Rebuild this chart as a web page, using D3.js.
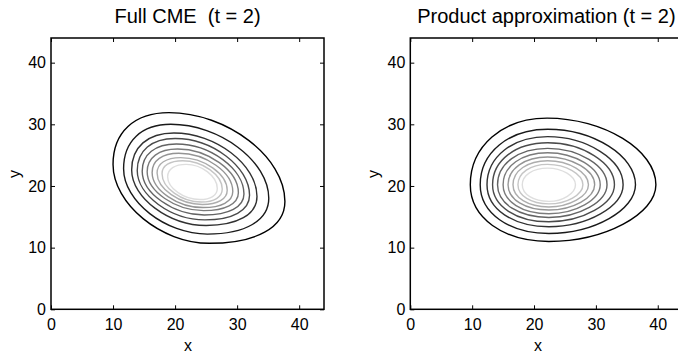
<!DOCTYPE html>
<html>
<head>
<meta charset="utf-8">
<script src="https://cdn.jsdelivr.net/npm/d3@7"></script>
<style>
  body { margin: 0; background: #fff; }
  text { font-family: "Liberation Sans", Arial, sans-serif; fill: #000; }
</style>
</head>
<body>
<div id="chart"></div>
<script>
const xTicks = [0, 10, 20, 30, 40]
const yTicks = [0, 10, 20, 30, 40]
const titles = ['Full CME  (t = 2)', 'Product approximation (t = 2)']

// contour rings, outer to inner: extreme points (leftmost, top, rightmost, bottom) in data units
const cmeLeft = [[10.0, 23.5], [11.7, 22.8], [13.0, 22.6], [13.9, 22.5], [14.7, 22.4], [15.5, 22.3], [16.3, 22.2], [17.1, 22.1], [17.9, 22.0], [18.8, 21.5]]
const cmeTop = [[19.0, 31.9], [19.3, 30.0], [19.8, 28.6], [20.0, 27.7], [20.2, 26.8], [20.4, 26.0], [20.6, 25.3], [20.9, 24.6], [21.2, 24.1], [21.8, 23.5]]
const cmeRight = [[37.7, 17.5], [35.1, 18.0], [33.2, 18.3], [32.0, 18.5], [31.1, 18.7], [30.2, 18.9], [29.3, 19.1], [28.4, 19.3], [27.6, 19.5], [26.8, 19.6]]
const cmeBottom = [[25.5, 10.7], [25.2, 12.2], [25.0, 13.6], [24.8, 14.5], [24.7, 15.3], [24.6, 16.0], [24.5, 16.5], [24.4, 17.0], [24.2, 17.4], [24.0, 17.8]]

const prodLeft = [[9.7, 20.2], [11.3, 20.2], [12.4, 20.2], [13.3, 20.2], [14.1, 20.2], [15.0, 20.2], [15.8, 20.2], [16.6, 20.2], [17.4, 20.2], [18.1, 20.2]]
const prodTop = [[22.1, 31.0], [22.2, 29.2], [22.2, 28.0], [22.2, 27.0], [22.2, 26.1], [22.2, 25.4], [22.2, 24.7], [22.2, 24.1], [22.2, 23.5], [22.2, 22.9]]
const prodRight = [[39.7, 20.2], [36.4, 20.2], [34.4, 20.2], [33.0, 20.2], [31.8, 20.2], [30.7, 20.2], [29.8, 20.2], [28.8, 20.2], [27.9, 20.2], [26.7, 20.2]]
const prodBottom = [[22.4, 11.0], [22.4, 12.3], [22.4, 13.4], [22.4, 14.2], [22.4, 14.9], [22.4, 15.5], [22.4, 16.1], [22.4, 16.6], [22.4, 17.1], [22.4, 17.5]]

// how far each quarter arc bulges (L->T, T->R, R->B, B->L)
const cmeBulge = [0.62, 0.5, 0.62, 0.5]
const prodBulge = [0.58, 0.52, 0.52, 0.58]

const W = 678
const H = 353
const plotTop = 38
const plotBottom = 309.3

const panels = [
  { title: titles[0], x0: 51, x1: 324, L: cmeLeft, T: cmeTop, R: cmeRight, B: cmeBottom, bulge: cmeBulge, xlab: 188 },
  { title: titles[1], x0: 410.3, x1: 682.5, L: prodLeft, T: prodTop, R: prodRight, B: prodBottom, bulge: prodBulge, xlab: 538 }
]

const svg = d3.select('#chart').append('svg')
  .attr('width', W)
  .attr('height', H)

// quarter arc from p (tangent along axis a) to q (tangent along axis b)
const arc = (path, p, q, a, b, k) => {
  const c1 = a === 'v' ? [p[0], p[1] + k * (q[1] - p[1])] : [p[0] + k * (q[0] - p[0]), p[1]]
  const c2 = b === 'v' ? [q[0], q[1] + k * (p[1] - q[1])] : [q[0] + k * (p[0] - q[0]), q[1]]
  path.bezierCurveTo(c1[0], c1[1], c2[0], c2[1], q[0], q[1])
}

panels.forEach(p => {
  const x = d3.scaleLinear().domain([0, 44]).range([p.x0, p.x1])
  const y = d3.scaleLinear().domain([0, 44]).range([plotBottom, plotTop])
  const g = svg.append('g')
  const n = p.L.length
  const gray = d3.scaleLinear().domain([0, n - 1]).range(['#000', '#dedede'])

  d3.range(n).forEach(i => {
    const pt = d => [x(d[0]), y(d[1])]
    const L = pt(p.L[i]), T = pt(p.T[i]), R = pt(p.R[i]), B = pt(p.B[i])
    const k = p.bulge
    const path = d3.path()
    path.moveTo(L[0], L[1])
    arc(path, L, T, 'v', 'h', k[0])
    arc(path, T, R, 'h', 'v', k[1])
    arc(path, R, B, 'v', 'h', k[2])
    arc(path, B, L, 'h', 'v', k[3])
    path.closePath()
    g.append('path')
      .attr('d', path.toString())
      .attr('fill', 'none')
      .attr('stroke', gray(i))
      .attr('stroke-width', 1.4)
  })

  const ax = (call, tx, ty, fmt) => {
    const a = g.append('g').attr('transform', 'translate(' + tx + ',' + ty + ')').call(call)
    a.select('.domain').remove()
    a.selectAll('line').attr('stroke', '#000').attr('stroke-width', 1)
    a.selectAll('text').style('font-size', '16px').style('font-family', '"Liberation Sans", Arial, sans-serif')
    if (!fmt) a.selectAll('text').remove()
    return a
  }
  ax(d3.axisBottom(x).tickValues(xTicks).tickSizeInner(-4).tickSizeOuter(0).tickPadding(9), 0, plotBottom, true)
  ax(d3.axisLeft(y).tickValues(yTicks).tickSizeInner(-4).tickSizeOuter(0).tickPadding(5), p.x0, 0, true)
  ax(d3.axisTop(x).tickValues(xTicks).tickSizeInner(-4).tickSizeOuter(0), 0, plotTop, false)
  ax(d3.axisRight(y).tickValues(yTicks).tickSizeInner(-4).tickSizeOuter(0), p.x1, 0, false)

  g.append('rect')
    .attr('x', p.x0)
    .attr('y', plotTop)
    .attr('width', p.x1 - p.x0)
    .attr('height', plotBottom - plotTop)
    .attr('fill', 'none')
    .attr('stroke', '#000')
    .attr('stroke-width', 1.5)

  g.append('text')
    .attr('x', (p.x0 + p.x1) / 2)
    .attr('y', 22.7)
    .attr('text-anchor', 'middle')
    .style('font-size', '20px')
    .style('white-space', 'pre')
    .text(p.title)

  g.append('text')
    .attr('x', p.xlab)
    .attr('y', 351)
    .attr('text-anchor', 'middle')
    .style('font-size', '16px')
    .text('x')

  g.append('text')
    .attr('transform', 'translate(' + (p.x0 - 37) + ',' + 174 + ') rotate(-90)')
    .attr('text-anchor', 'middle')
    .attr('dy', '0.35em')
    .style('font-size', '16px')
    .text('y')
})
</script>
</body>
</html>
